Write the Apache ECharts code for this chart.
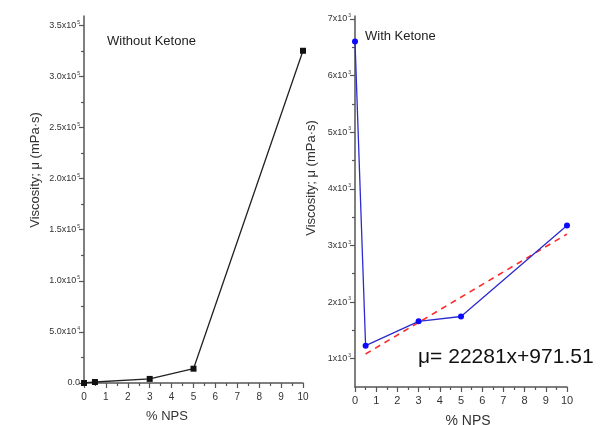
<!DOCTYPE html>
<html>
<head>
<meta charset="utf-8">
<script src="https://cdn.jsdelivr.net/npm/echarts@6/dist/echarts.min.js"></script>
<style>
  html, body { margin: 0; background: #fff; }
  #chart { width: 607px; height: 425px; }
</style>
</head>
<body>
<div id="chart"></div>
<script>
// left panel: without ketone
const npsLeft = [0, 0.5, 3, 5, 10]
const viscLeft = [0, 1000, 4000, 14000, 325000]
// right panel: with ketone
const npsRight = [0, 0.5, 3, 5, 10]
const viscRight = [6600, 1230, 1660, 1745, 3350]
// linear fit drawn on the right panel
const trendX = [0.5, 10]
const trendY = [1083, 3200]

const xTicks = [0, 1, 2, 3, 4, 5, 6, 7, 8, 9, 10]
const xMinor = [0.5, 1.5, 2.5, 3.5, 4.5, 5.5, 6.5, 7.5, 8.5, 9.5]
const leftYTicks = [0, 50000, 100000, 150000, 200000, 250000, 300000, 350000]
const leftYMinor = [25000, 75000, 125000, 175000, 225000, 275000, 325000]
const rightYTicks = [1000, 2000, 3000, 4000, 5000, 6000, 7000]
const rightYMinor = [1500, 2500, 3500, 4500, 5500, 6500]

const axisColor = "#555"
const labelColor = "#333"
const font = "Liberation Sans"

function mainAxis(gridIndex, min, max, ticks, labelOpt) {
  return {
    type: "value",
    gridIndex,
    min,
    max,
    axisLine: { show: true, lineStyle: { color: axisColor, width: 1.5 } },
    axisTick: { show: true, customValues: ticks, length: 5, lineStyle: { color: axisColor, width: 1.2 } },
    axisLabel: Object.assign({ customValues: ticks, color: labelColor, fontFamily: font, margin: 4 }, labelOpt),
    splitLine: { show: false }
  }
}
function minorAxis(gridIndex, min, max, ticks, pos) {
  return {
    type: "value",
    gridIndex,
    min,
    max,
    position: pos,
    axisLine: { show: false },
    axisTick: { show: true, customValues: ticks, length: 3, lineStyle: { color: axisColor, width: 1.2 } },
    axisLabel: { show: false },
    splitLine: { show: false }
  }
}

// "3.5x10^5" style labels with a tiny superscript
function leftYLabel(v) {
  if (v === 0) return "{a|0.0}"
  if (v < 100000) return "{a|" + (v / 10000).toFixed(1) + "x10}{s|4}"
  return "{a|" + (v / 100000).toFixed(1) + "x10}{s|5}"
}
function rightYLabel(v) {
  return "{a|" + v / 1000 + "x10}{s|3}"
}
const supRich = {
  a: { fontSize: 9, color: labelColor, fontFamily: font },
  s: { fontSize: 5, color: labelColor, fontFamily: font, padding: [0, 0, 6, 1] }
}

const chart = echarts.init(document.getElementById("chart"))
chart.setOption({
  backgroundColor: "#fff",
  animation: false,
  grid: [
    { left: 84, top: 16, right: 304, bottom: 42 },
    { left: 355, top: 16, right: 40, bottom: 38 }
  ],
  xAxis: [
    mainAxis(0, 0, 10, xTicks, { fontSize: 10, margin: 9 }),
    minorAxis(0, 0, 10, xMinor, "bottom"),
    mainAxis(1, 0, 10, xTicks, { fontSize: 11, margin: 8 }),
    minorAxis(1, 0, 10, xMinor, "bottom")
  ],
  yAxis: [
    mainAxis(0, 0, 359000, leftYTicks, { formatter: leftYLabel, rich: supRich }),
    minorAxis(0, 0, 359000, leftYMinor, "left"),
    mainAxis(1, 500, 7050, rightYTicks, { formatter: rightYLabel, rich: supRich }),
    minorAxis(1, 500, 7050, rightYMinor, "left")
  ],
  series: [
    {
      type: "line",
      xAxisIndex: 0,
      yAxisIndex: 0,
      data: npsLeft.map((x, i) => [x, viscLeft[i]]),
      symbol: "rect",
      symbolSize: 6,
      lineStyle: { color: "#222", width: 1.3 },
      itemStyle: { color: "#111" }
    },
    {
      type: "line",
      xAxisIndex: 2,
      yAxisIndex: 2,
      data: trendX.map((x, i) => [x, trendY[i]]),
      symbol: "none",
      lineStyle: { color: "#ff2a2a", width: 1.6, type: [6, 5] }
    },
    {
      type: "line",
      xAxisIndex: 2,
      yAxisIndex: 2,
      data: npsRight.map((x, i) => [x, viscRight[i]]),
      symbol: "circle",
      symbolSize: 6,
      lineStyle: { color: "#2b2bd0", width: 1.3 },
      itemStyle: { color: "#0a0aff" }
    }
  ],
  graphic: [
    { type: "text", left: 107, top: 35, style: { text: "Without Ketone", fontSize: 13, fontFamily: font, fill: "#222" } },
    { type: "text", left: 365, top: 30, style: { text: "With Ketone", fontSize: 13, fontFamily: font, fill: "#222" } },
    {
      type: "text", x: 35, y: 170, rotation: Math.PI / 2,
      style: { text: "Viscosity; \u03bc (mPa\u00b7s)", fontSize: 13, fontFamily: font, fill: "#333", align: "center", verticalAlign: "middle" }
    },
    {
      type: "text", x: 311, y: 178, rotation: Math.PI / 2,
      style: { text: "Viscosity; \u03bc (mPa\u00b7s)", fontSize: 13, fontFamily: font, fill: "#333", align: "center", verticalAlign: "middle" }
    },
    { type: "text", x: 167, y: 416, style: { text: "% NPS", fontSize: 13, fontFamily: font, fill: "#333", align: "center", verticalAlign: "middle" } },
    { type: "text", x: 468, y: 421, style: { text: "% NPS", fontSize: 14, fontFamily: font, fill: "#333", align: "center", verticalAlign: "middle" } },
    { type: "text", x: 418, y: 357, style: { text: "\u03bc= 22281x+971.51", fontSize: 21, fontFamily: font, fill: "#111", verticalAlign: "middle" } }
  ]
})
window.addEventListener("resize", function () {
  chart.resize()
})
</script>
</body>
</html>
